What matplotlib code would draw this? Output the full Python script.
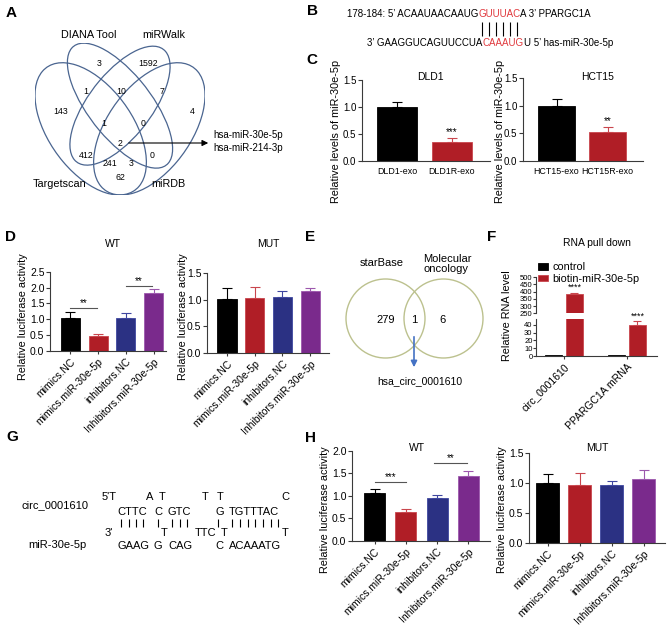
import matplotlib
matplotlib.use('Agg')
import matplotlib.pyplot as plt
from matplotlib.patches import Ellipse, Circle
from matplotlib.ticker import FormatStrFormatter
import numpy as np

plt.rcParams['font.family'] = ['Liberation Sans', 'DejaVu Sans']

W, H = 670, 635

# ---------------- data ----------------
venn_sets = ['DIANA Tool', 'miRWalk', 'Targetscan', 'miRDB']
venn_counts = [3, 1592, 1, 10, 7, 143, 4, 1, 0, 2, 412, 241, 3, 0, 62]
venn_hits = ['hsa-miR-30e-5p', 'hsa-miR-214-3p']

c_dld1_groups = ['DLD1-exo', 'DLD1R-exo']
c_dld1_vals = [1.0, 0.35]
c_dld1_err = [0.10, 0.07]
c_dld1_sig = ['', '***']
c_hct15_groups = ['HCT15-exo', 'HCT15R-exo']
c_hct15_vals = [1.0, 0.53]
c_hct15_err = [0.12, 0.08]
c_hct15_sig = ['', '**']

luc_groups = ['mimics.NC', 'mimics.miR-30e-5p', 'inhibitors.NC', 'Inhibitors.miR-30e-5p']
d_wt_vals = [1.03, 0.47, 1.03, 1.84]
d_wt_err = [0.19, 0.06, 0.18, 0.10]
d_mut_vals = [1.02, 1.03, 1.06, 1.17]
d_mut_err = [0.20, 0.21, 0.11, 0.05]

e_sets = ['starBase', 'Molecular\noncology']
e_counts = [279, 1, 6]
e_hit = 'hsa_circ_0001610'

f_targets = ['circ_0001610', 'PPARGC1A mRNA']
f_series = ['control', 'biotin-miR-30e-5p']
f_control = [1.0, 1.0]
f_biotin = [380, 40]
f_biotin_err = [12, 5]

h_wt_vals = [1.07, 0.64, 0.96, 1.45]
h_wt_err = [0.08, 0.06, 0.06, 0.11]
h_mut_vals = [0.99, 0.97, 0.97, 1.06]
h_mut_err = [0.15, 0.20, 0.06, 0.16]

bar_colors = ['#000000', '#b01e26', '#2b3183', '#7a2a8c']
err_colors = ['#000000', '#c9464d', '#3f47a0', '#9c58ad']
axis_col = '#3a3a3a'

fig = plt.figure(figsize=(6.7, 6.35), dpi=100)

# overlay axes in pixel coordinates for diagrams and text
ax0 = fig.add_axes([0, 0, 1, 1], zorder=10)
ax0.set_xlim(0, W)
ax0.set_ylim(H, 0)
ax0.axis('off')
ax0.patch.set_alpha(0)


def px_axes(left, top, right, bottom):
    return fig.add_axes([left / W, 1 - bottom / H, (right - left) / W, (bottom - top) / H])


def style(ax, ylim, yticks, xlim, fs=7):
    ax.set_xlim(*xlim)
    ax.set_ylim(*ylim)
    ax.set_yticks(yticks)
    for s in ['top', 'right']:
        ax.spines[s].set_visible(False)
    for s in ['left', 'bottom']:
        ax.spines[s].set_color(axis_col)
        ax.spines[s].set_linewidth(0.8)
    ax.tick_params(axis='y', length=3, width=0.8, labelsize=fs, pad=1, color=axis_col)
    ax.tick_params(axis='x', length=2, width=0.8, labelsize=fs, pad=2, color=axis_col)
    ax.patch.set_alpha(0)


def bars(ax, vals, errs, width):
    for i, (v, e) in enumerate(zip(vals, errs)):
        ax.bar(i, v, width, color=bar_colors[i], edgecolor=err_colors[i], linewidth=0.6, zorder=2)
        ax.errorbar(i, v, yerr=[[0], [e]], fmt='none', ecolor=err_colors[i],
                    elinewidth=0.8, capsize=3.5, capthick=0.8, zorder=3)


def sig(ax, x1, x2, y, txt):
    ax.plot([x1, x2], [y, y], color='#555555', lw=0.8)
    ax.text((x1 + x2) / 2, y, txt, ha='center', va='bottom', fontsize=7)


def panel_label(x, y, s):
    ax0.text(x, y, s, fontsize=11, fontweight='bold', ha='center', va='center')


# ---------------- A: four-set Venn ----------------
panel_label(11, 13, 'A')
vax = px_axes(35, 43, 205, 195)
vax.set_xlim(0.065, 0.935)
vax.set_ylim(0.185, 0.84)
vax.axis('off')
ell_specs = [((0.50, 0.57), 0.70, 0.30, 135),
             ((0.50, 0.57), 0.66, 0.30, 45),
             ((0.35, 0.47), 0.70, 0.40, 135),
             ((0.65, 0.47), 0.70, 0.40, 45)]
for c, w, h, a in ell_specs:
    vax.add_patch(Ellipse(c, w, h, angle=a, fill=False, ec='#4a6590', lw=0.9))

venn_pos = [(99, 64), (148, 63), (86, 92), (121, 92), (162, 92), (61, 112), (192, 112),
            (104, 123), (143, 123), (120, 143), (86, 155), (110, 163), (131, 163),
            (152, 155), (120, 178)]
for (x, y), n in zip(venn_pos, venn_counts):
    ax0.text(x, y, str(n), fontsize=6.3, ha='center', va='center')
for (x, y), s in zip([(89, 35), (164, 35), (60, 184), (168, 184)], venn_sets):
    ax0.text(x, y, s, fontsize=7.8, ha='center', va='center')
ax0.annotate('', xy=(211, 143), xytext=(126, 143),
             arrowprops=dict(arrowstyle='-|>', color='black', lw=0.8, mutation_scale=9))
ax0.text(213, 135, venn_hits[0], fontsize=7, ha='left', va='center')
ax0.text(213, 148, venn_hits[1], fontsize=7, ha='left', va='center')

# ---------------- B: binding site ----------------
panel_label(312, 11, 'B')


def seq_line(x, y, parts):
    t = ax0.text(x, y, parts[0][0], color=parts[0][1], fontsize=7, ha='left', va='bottom')
    out = [t]
    for s, col in parts[1:]:
        t = ax0.annotate(s, xy=(1, 0), xycoords=t, va='bottom', ha='left', color=col, fontsize=7)
        out.append(t)
    return out


red = '#e03a3e'
l1 = seq_line(347, 19, [('178-184: 5\u2019 ACAAUAACAAUG', 'black'), ('GUUUAC', red),
                       ('A 3\u2019 PPARGC1A', 'black')])
l2 = seq_line(367, 48, [('3\u2019 GAAGGUCAGUUCCUA', 'black'), ('CAAAUG', red),
                       ('U 5\u2019 has-miR-30e-5p', 'black')])

# ---------------- C ----------------
ax0.text(312, 60, 'C', fontsize=11, fontweight='bold', ha='center', va='center')
for (l, r, top, grp, vals, errs, stars, title, tx, lx, cx0, unit) in [
        (362, 490, 80, c_dld1_groups, c_dld1_vals, c_dld1_err, c_dld1_sig, 'DLD1', 430, 336, 397, 55),
        (523, 643, 78, c_hct15_groups, c_hct15_vals, c_hct15_err, c_hct15_sig, 'HCT15', 598, 500, 556.5, 51)]:
    ax = px_axes(l, top, r, 161)
    style(ax, (0, 1.5), [0, 0.5, 1.0, 1.5], ((l - cx0) / unit, (r - cx0) / unit), fs=7)
    bars(ax, vals, errs, 0.72)
    for i, s in enumerate(stars):
        if s:
            ax.text(i, vals[i] + errs[i] + 0.02, s, ha='center', va='bottom', fontsize=7)
    ax.set_xticks(range(len(grp)))
    ax.set_xticklabels(grp, fontsize=6.4)
    ax.tick_params(axis='x', length=0, pad=4)
    ax.yaxis.set_major_formatter(FormatStrFormatter('%.1f'))
    ax.set_ylabel('Relative levels of miR-30e-5p', fontsize=7.8, va='center')
    ax.yaxis.set_label_coords(lx, 131, transform=ax0.transData)
    ax0.text(tx, 77, title, fontsize=7.5, ha='center', va='center')

# ---------------- D ----------------
panel_label(10, 237, 'D')
axd1 = px_axes(50, 271.7, 166, 351)
style(axd1, (0, 2.5), [0, 0.5, 1.0, 1.5, 2.0, 2.5], (-0.74, 3.45), fs=7.5)
bars(axd1, d_wt_vals, d_wt_err, 0.69)
sig(axd1, 0, 0.95, 1.35, '**')
sig(axd1, 2, 2.95, 2.05, '**')
axd2 = px_axes(207, 273.3, 329, 352.7)
style(axd2, (0, 1.5), [0, 0.5, 1.0, 1.5], (-0.72, 3.68), fs=7.5)
bars(axd2, d_mut_vals, d_mut_err, 0.69)
for ax, lx, tx, tt in [(axd1, 23, 113, 'WT'), (axd2, 183, 268, 'MUT')]:
    ax.set_xticks(range(4))
    ax.set_xticklabels(luc_groups, rotation=45, ha='right', rotation_mode='anchor')
    ax.yaxis.set_major_formatter(FormatStrFormatter('%.1f'))
    ax.set_ylabel('Relative luciferase activity', fontsize=7.8, va='center')
    ax.yaxis.set_label_coords(lx, 317, transform=ax0.transData)
    ax0.text(tx, 244, tt, fontsize=7.5, ha='center', va='center')

# ---------------- E ----------------
panel_label(310, 237, 'E')
circ_col = '#bcc18e'
ax0.add_patch(Circle((385.5, 318.5), 39.5, fill=False, ec=circ_col, lw=1))
ax0.add_patch(Circle((443.5, 318.5), 39.5, fill=False, ec=circ_col, lw=1))
for x, n in zip([385.5, 414, 443], e_counts):
    ax0.text(x, 320, str(n), fontsize=8, ha='center', va='center')
ax0.text(382, 263, e_sets[0], fontsize=8, ha='center', va='center')
ax0.text(423, 264, e_sets[1], fontsize=8, ha='left', va='center', linespacing=1.05)
ax0.annotate('', xy=(414, 370), xytext=(414, 334),
             arrowprops=dict(arrowstyle='-|>', color='#4472c4', lw=1.2, mutation_scale=9))
ax0.text(420, 381, e_hit, fontsize=7.5, ha='center', va='center')

# ---------------- F ----------------
panel_label(492, 237, 'F')
ax0.text(597, 243, 'RNA pull down', fontsize=7.5, ha='center', va='center')
fxl = (-0.44, 1.48)
axfl = px_axes(536, 319, 657, 356)
axfu = px_axes(536, 277, 657, 313.3)
style(axfl, (0, 47.7), [0, 10, 20, 30, 40], fxl, fs=5.5)
style(axfu, (250, 500), [250, 300, 350, 400, 450, 500], fxl, fs=5.5)
axfu.spines['bottom'].set_visible(False)
axfu.set_xticks([])
xf = np.arange(len(f_targets))
off, bw = 0.17, 0.27
for ax in (axfl, axfu):
    hc = ax.bar(xf - off, f_control, bw, color='black', edgecolor='black', lw=0.6, zorder=2)
    hb = ax.bar(xf + off, f_biotin, bw, color=bar_colors[1], edgecolor=err_colors[1], lw=0.6, zorder=2)
    ax.errorbar(xf + off, f_biotin, yerr=[[0, 0], f_biotin_err], fmt='none', ecolor=err_colors[1],
                elinewidth=0.8, capsize=3, capthick=0.8, zorder=3)
    ax.tick_params(axis='y', length=2, pad=0.5)
axfu.text(0 + off, f_biotin[0] + f_biotin_err[0] + 8, '****', ha='center', va='bottom', fontsize=6.5)
axfl.text(1 + off, f_biotin[1] + f_biotin_err[1] + 0.5, '****', ha='center', va='bottom',
          fontsize=6.5, clip_on=False)
axfl.set_xticks(xf)
axfl.set_xticklabels(f_targets, rotation=45, ha='right', rotation_mode='anchor', fontsize=7.5)
axfl.tick_params(axis='x', length=2, pad=2)
ax0.text(507, 316, 'Relative RNA level', fontsize=7.8, rotation=90, ha='center', va='center')
axfu.legend([hc, hb], f_series, loc='upper left', bbox_to_anchor=(533 / W, 1 - 257 / H),
            bbox_transform=fig.transFigure, frameon=False, fontsize=7.8, handlelength=0.9,
            handleheight=0.5, handletextpad=0.4, borderpad=0, labelspacing=0.1)

# ---------------- G ----------------
panel_label(12, 437, 'G')
ax0.text(22, 505, 'circ_0001610', fontsize=8, ha='left', va='center')
ax0.text(28, 545, 'miR-30e-5p', fontsize=8, ha='left', va='center')
g_rows = [
    (497, [(102, "5'T"), (146, 'A'), (159, 'T'), (202, 'T'), (217, 'T'), (281, 'C')]),
    (512, [(117, 'CTTC'), (154, 'C'), (168, 'GTC'), (215, 'G'), (229, 'TGTTTAC')]),
    (533, [(105, "3'"), (161, 'T'), (195, 'TTC'), (221, 'T'), (282, 'T')]),
    (546, [(117, 'GAAG'), (153, 'G'), (168, 'CAG'), (215, 'C'), (229, 'ACAAATG')]),
]
for y, toks in g_rows:
    for x, s in toks:
        ax0.text(x, y, s, fontsize=8, ha='left', va='center')
g_pairs = [121, 129, 136, 143, 158, 172, 180, 187, 218, 232, 240, 248, 255, 263, 271, 278]
ax0.vlines(g_pairs, 519, 527, color='black', lw=0.8)

# ---------------- H ----------------
panel_label(310, 438, 'H')
axh1 = px_axes(352, 450.7, 490, 541)
style(axh1, (0, 2.0), [0, 0.5, 1.0, 1.5, 2.0], (-0.72, 3.69), fs=7.5)
bars(axh1, h_wt_vals, h_wt_err, 0.67)
sig(axh1, 0, 1.0, 1.30, '***')
sig(axh1, 1.9, 2.95, 1.72, '**')
axh2 = px_axes(529, 452.7, 665, 542.7)
style(axh2, (0, 1.5), [0, 0.5, 1.0, 1.5], (-0.58, 3.67), fs=7.5)
bars(axh2, h_mut_vals, h_mut_err, 0.72)
for ax, lx, tx, tt in [(axh1, 325, 417, 'WT'), (axh2, 502, 597, 'MUT')]:
    ax.set_xticks(range(4))
    ax.set_xticklabels(luc_groups, rotation=45, ha='right', rotation_mode='anchor')
    ax.yaxis.set_major_formatter(FormatStrFormatter('%.1f'))
    ax.set_ylabel('Relative luciferase activity', fontsize=7.8, va='center')
    ax.yaxis.set_label_coords(lx, 510, transform=ax0.transData)
    ax0.text(tx, 448, tt, fontsize=7.5, ha='center', va='center')

# base-pair ticks in B placed under the red seed letters
fig.canvas.draw()
inv = ax0.transData.inverted()
bb = l1[1].get_window_extent()
(x_left, _), (x_right, _) = inv.transform([(bb.x0, bb.y0), (bb.x1, bb.y1)])
step = (x_right - x_left) / 6
ax0.vlines([x_left + step * (i + 0.5) for i in range(6)], 22, 36, color='black', lw=0.8)

fig.savefig('out.png', dpi=100)
